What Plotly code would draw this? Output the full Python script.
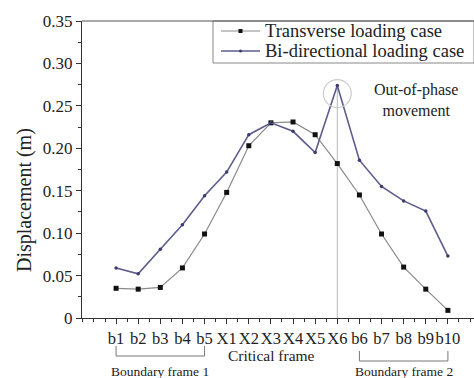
import plotly.graph_objects as go

categories = ["b1", "b2", "b3", "b4", "b5", "X1", "X2", "X3", "X4", "X5", "X6",
              "b6", "b7", "b8", "b9", "b10"]
transverse = [0.035, 0.034, 0.036, 0.059, 0.099, 0.148, 0.203, 0.230, 0.231, 0.216,
              0.182, 0.145, 0.099, 0.060, 0.034, 0.009]
bidirectional = [0.059, 0.052, 0.081, 0.110, 0.144, 0.172, 0.216, 0.230, 0.220, 0.195,
                 0.274, 0.186, 0.155, 0.138, 0.126, 0.073]
series_names = ["Transverse loading case", "Bi-directional loading case"]
ytick_vals = [0, 0.05, 0.10, 0.15, 0.20, 0.25, 0.30, 0.35]
ytick_text = ["0", "0.05", "0.10", "0.15", "0.20", "0.25", "0.30", "0.35"]

FONT = "Liberation Serif, Times New Roman, serif"
TXT = "#222222"
C_T_LINE, C_T_MK = "#8a8a8a", "#111111"
C_B_LINE, C_B_MK = "#5c5c8e", "#3c3c6e"

W, H = 474, 378
ML, MR, MT, MB = 82, 0, 21, 60
PW, PH = W - ML - MR, H - MT - MB

def px(xpix):
    return (xpix - ML) / PW

def py(ypix):
    return (H - MB - ypix) / PH

xs = list(range(len(categories)))

fig = go.Figure()
fig.add_trace(go.Scatter(
    x=xs, y=transverse, mode="lines+markers", name=series_names[0],
    line=dict(color=C_T_LINE, width=1.2),
    marker=dict(symbol="square", size=5, color=C_T_MK), showlegend=False,
))
fig.add_trace(go.Scatter(
    x=xs, y=bidirectional, mode="lines+markers", name=series_names[1],
    line=dict(color=C_B_LINE, width=1.6),
    marker=dict(symbol="circle", size=3.5, color=C_B_MK), showlegend=False,
))

peak_i = max(range(len(bidirectional)), key=lambda i: bidirectional[i])
peak_v = bidirectional[peak_i]

# vertical guide line at the peak
fig.add_shape(type="line", x0=peak_i, x1=peak_i, y0=0, y1=peak_v,
              line=dict(color="#b8b8b8", width=1), layer="below")
# circle around the peak
fig.add_shape(type="circle", x0=peak_i - 0.63, x1=peak_i + 0.63,
              y0=peak_v - 0.026, y1=peak_v + 0.007,
              line=dict(color="#cccccc", width=1.2))

fig.add_annotation(x=px(416), y=py(100), xref="paper", yref="paper",
                   text="Out-of-phase<br>movement", showarrow=False,
                   yanchor="middle", xanchor="center",
                   font=dict(family=FONT, size=16, color=TXT), align="center")

# axis titles
fig.add_annotation(x=px(271), y=py(355), xref="paper", yref="paper", text="Critical frame",
                   showarrow=False, yanchor="middle", xanchor="center",
                   font=dict(family=FONT, size=15.5, color=TXT))
fig.add_annotation(x=px(24), y=py(200), xref="paper", yref="paper", text="Displacement (m)",
                   showarrow=False, textangle=-90, yanchor="middle", xanchor="center",
                   font=dict(family=FONT, size=20, color=TXT))

# boundary brackets
def bracket(i0, i1, ytop, ybot, label, ytext):
    for a, b, c, d in [(i0, i0, ytop, ybot), (i1, i1, ytop, ybot), (i0, i1, ybot, ybot)]:
        fig.add_shape(type="line", x0=a, x1=b, y0=c, y1=d, xref="x", yref="paper",
                      line=dict(color="#777777", width=1))
    fig.add_annotation(x=(i0 + i1) / 2, y=ytext, xref="x", yref="paper", text=label,
                       showarrow=False, yanchor="middle", xanchor="center",
                       font=dict(family=FONT, size=13.5, color=TXT))

bracket(0, 4, py(346), py(356), "Boundary frame 1", py(371.5))
bracket(11, 15, py(351), py(361), "Boundary frame 2", py(371))

# legend (drawn box with samples)
lx0, lx1, ly0, ly1 = px(213), 1.0, py(63), 1.0
fig.add_shape(type="rect", x0=lx0, x1=lx1, y0=ly0, y1=ly1, xref="paper", yref="paper",
              line=dict(color="#888888", width=1), fillcolor="white")
rows = [(py(31), C_T_LINE, C_T_MK, "square", 1.2, 4),
        (py(51), C_B_LINE, C_B_MK, "circle", 1.6, 3)]
for (yy, lc, mc, sym, lw, ms), name in zip(rows, series_names):
    fig.add_shape(type="line", x0=px(221), x1=px(260), y0=yy, y1=yy,
                  xref="paper", yref="paper", line=dict(color=lc, width=lw))
    r = ms / 2
    fig.add_shape(type="rect" if sym == "square" else "circle",
                  x0=px(240.5 - r), x1=px(240.5 + r), y0=yy - r / PH, y1=yy + r / PH,
                  xref="paper", yref="paper", line=dict(color=mc, width=0), fillcolor=mc)
    fig.add_annotation(x=px(263), y=yy, xref="paper", yref="paper", text=name,
                       showarrow=False, xanchor="left", yanchor="middle",
                       font=dict(family=FONT, size=18.5, color=TXT))

fig.update_layout(
    width=W, height=H,
    margin=dict(l=ML, r=MR, t=MT, b=MB),
    paper_bgcolor="white", plot_bgcolor="white",
    font=dict(family=FONT, color=TXT),
    showlegend=False,
    xaxis=dict(range=[-1.54, 16.18], tickmode="array", tickvals=xs, ticktext=categories,
               tickangle=0,
               showgrid=False, zeroline=False, showline=True, linecolor="#333333",
               linewidth=1, ticks="outside", ticklen=5, tickcolor="#333333",
               tickfont=dict(family=FONT, size=16.5, color=TXT),
               minor=dict(dtick=0.5, tick0=0, ticks="outside", ticklen=3,
                          tickcolor="#333333", showgrid=False)),
    yaxis=dict(range=[0, 0.35], tickmode="array", tickvals=ytick_vals, ticktext=ytick_text,
               showgrid=False, zeroline=False, showline=True, linecolor="#333333",
               linewidth=1, ticks="outside", ticklen=5, tickcolor="#333333",
               tickfont=dict(family=FONT, size=17, color=TXT),
               minor=dict(dtick=0.025, tick0=0, ticks="outside", ticklen=3,
                          tickcolor="#333333", showgrid=False)),
)
# top border line
fig.add_shape(type="line", x0=0, x1=1, y0=1, y1=1, xref="paper", yref="paper",
              line=dict(color="#555555", width=1))

fig.write_html("out.html")
